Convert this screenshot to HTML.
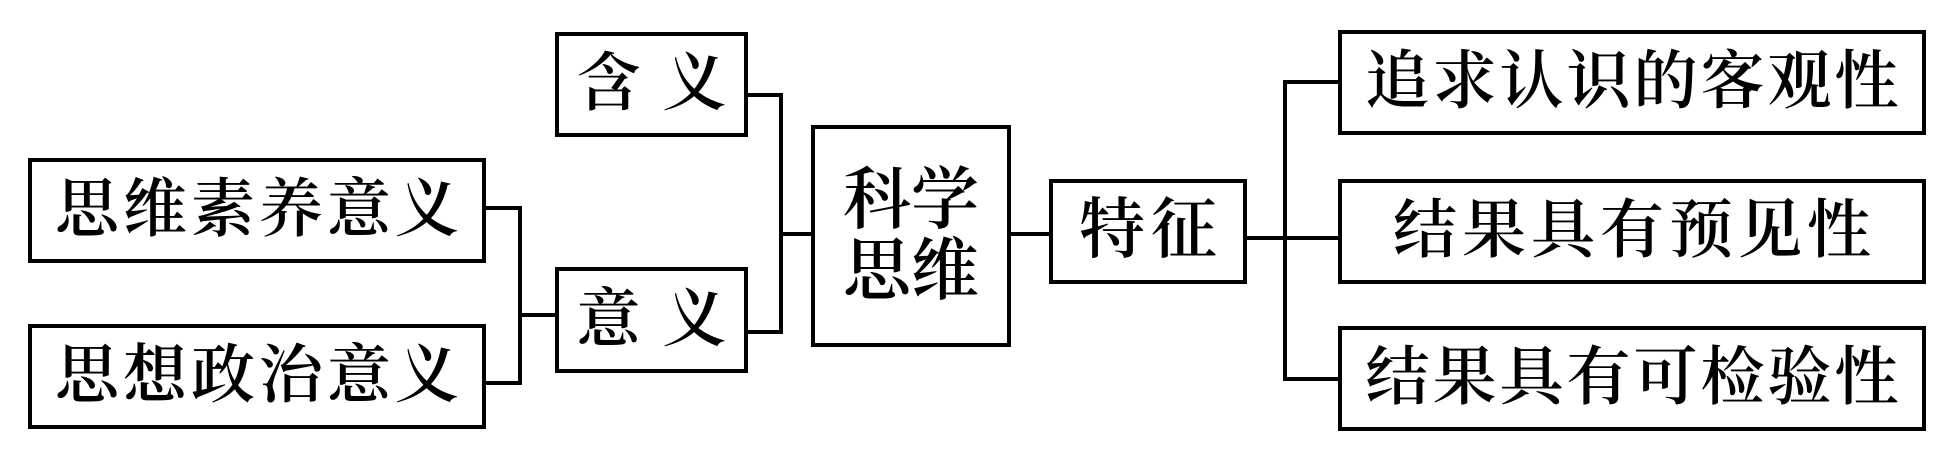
<!DOCTYPE html>
<html><head><meta charset="utf-8"><style>
body{margin:0;width:1954px;height:469px;background:#fff;position:relative;overflow:hidden;font-family:"Liberation Serif","Noto Serif CJK SC",serif;}
.b{position:absolute;border:4px solid #000;box-sizing:border-box;display:flex;align-items:center;justify-content:center;font-size:64px;font-weight:600;color:#000;white-space:nowrap;line-height:1.1;}
.l{position:absolute;background:#000;}
</style></head><body>
<div class="b" style="left:555px;top:32px;width:193px;height:105px;letter-spacing:22px;padding-left:22px">含义</div>
<div class="b" style="left:555px;top:267px;width:193px;height:106px;letter-spacing:22px;padding-left:22px">意义</div>
<div class="b" style="left:28px;top:158px;width:458px;height:105px;letter-spacing:4px;padding-left:4px">思维素养意义</div>
<div class="b" style="left:28px;top:324px;width:458px;height:105px;letter-spacing:4px;padding-left:4px">思想政治意义</div>
<div class="b" style="left:811px;top:125px;width:200px;height:222px;flex-direction:column;line-height:1.05;font-size:68px">
<div>科学</div><div>思维</div></div>
<div class="b" style="left:1049px;top:179px;width:198px;height:105px;font-size:66px;letter-spacing:6px;padding-left:6px">特征</div>
<div class="b" style="left:1338px;top:30px;width:588px;height:105px;letter-spacing:3px;padding-left:3px">追求认识的客观性</div>
<div class="b" style="left:1338px;top:179px;width:588px;height:105px;letter-spacing:5px;padding-left:5px">结果具有预见性</div>
<div class="b" style="left:1338px;top:326px;width:588px;height:105px;letter-spacing:3px;padding-left:3px">结果具有可检验性</div>
<div class="l" style="left:486px;top:206px;width:36px;height:4px"></div>
<div class="l" style="left:486px;top:381px;width:36px;height:4px"></div>
<div class="l" style="left:518px;top:206px;width:4px;height:179px"></div>
<div class="l" style="left:518px;top:313px;width:37px;height:4px"></div>
<div class="l" style="left:748px;top:93px;width:35px;height:4px"></div>
<div class="l" style="left:748px;top:330px;width:35px;height:4px"></div>
<div class="l" style="left:779px;top:93px;width:4px;height:241px"></div>
<div class="l" style="left:779px;top:232px;width:32px;height:4px"></div>
<div class="l" style="left:1011px;top:232px;width:38px;height:4px"></div>
<div class="l" style="left:1247px;top:236px;width:91px;height:4px"></div>
<div class="l" style="left:1283px;top:80px;width:4px;height:300px"></div>
<div class="l" style="left:1283px;top:80px;width:55px;height:4px"></div>
<div class="l" style="left:1283px;top:377px;width:55px;height:4px"></div>
</body></html>
